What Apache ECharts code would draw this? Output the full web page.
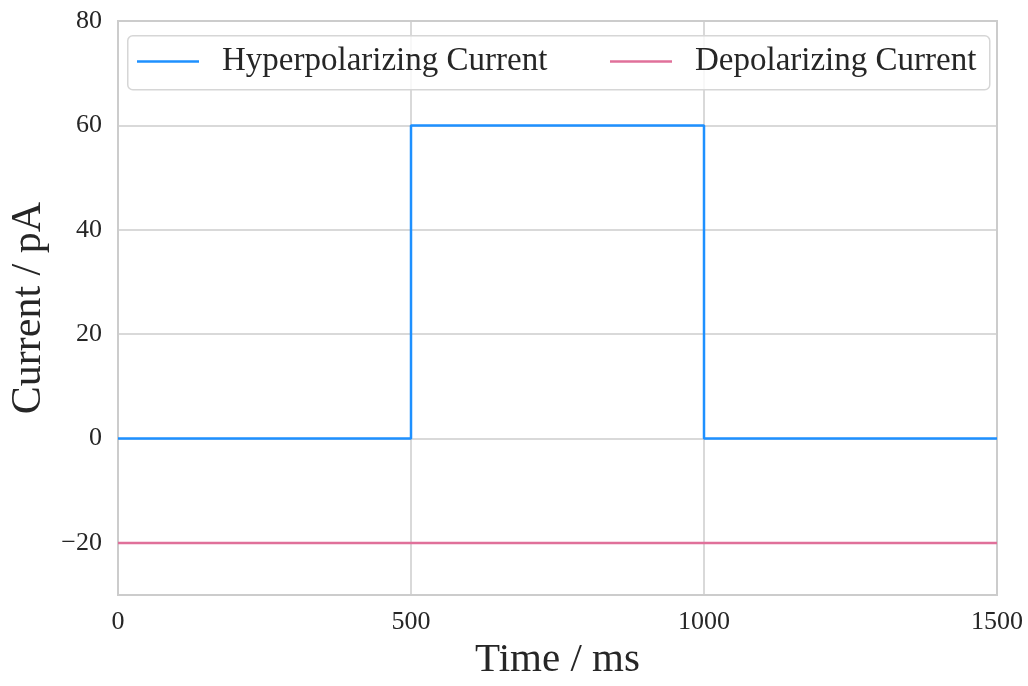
<!DOCTYPE html>
<html><head><meta charset="utf-8">
<script src="https://cdn.jsdelivr.net/npm/echarts@6/dist/echarts.min.js"></script>
<style>html,body{margin:0;padding:0;background:#fff;overflow:hidden}#c{width:1028px;height:686px}</style>
</head><body><div id="c"></div>
<script>
const time = [0, 500, 1000, 1500];
const hyperpolarizing = [0, 60, 0, 0];
const depolarizing = [-20, -20, -20, -20];
const xTicks = [0, 500, 1000, 1500];
const yTicks = [-20, 0, 20, 40, 60, 80];
const seriesNames = ['Hyperpolarizing Current', 'Depolarizing Current'];
const seriesColors = ['#1e90ff', '#e0709a'];

const FONT = '"Liberation Serif", serif';
const TXT = '#262626';
const chart = echarts.init(document.getElementById('c'), null, {renderer: 'canvas'});
const legendBase = {
  top: 45, orient: 'horizontal', itemWidth: 62, itemHeight: 2.5, icon: 'rect', padding: 0, z: 6,
  textStyle: {fontFamily: FONT, fontSize: 33, color: TXT, padding: [0, 0, 0, 18]}
};
chart.setOption({
  animation: false,
  grid: {left: 118, right: 31, top: 21, bottom: 83, show: true, borderColor: '#cccccc', borderWidth: 2, containLabel: false},
  graphic: [{type: 'rect', left: 127, top: 35, shape: {width: 862, height: 54, r: 5},
    style: {fill: 'rgba(255,255,255,0.8)', stroke: '#d6d6d6', lineWidth: 1.5}, z: 4}],
  legend: [
    Object.assign({}, legendBase, {left: 137, data: [seriesNames[0]]}),
    Object.assign({}, legendBase, {left: 610, data: [seriesNames[1]]})
  ],
  xAxis: {
    type: 'value', min: 0, max: 1500,
    name: 'Time / ms', nameLocation: 'middle', nameGap: 40,
    nameTextStyle: {fontFamily: FONT, fontSize: 41, color: TXT},
    axisLine: {show: false}, axisTick: {show: false, customValues: xTicks},
    axisLabel: {customValues: xTicks, fontFamily: FONT, fontSize: 26, color: TXT, margin: 14,
      formatter: v => String(v)},
    splitLine: {show: true, lineStyle: {color: '#cccccc', width: 1.5}}
  },
  yAxis: {
    type: 'value', min: -30, max: 80,
    name: 'Current / pA', nameLocation: 'middle', nameGap: 66,
    nameTextStyle: {fontFamily: FONT, fontSize: 42, color: TXT},
    axisLine: {show: false}, axisTick: {show: false, customValues: yTicks},
    axisLabel: {customValues: yTicks, fontFamily: FONT, fontSize: 26, color: TXT, margin: 16,
      formatter: v => v < 0 ? '\u2212' + Math.abs(v) : String(v)},
    splitLine: {show: true, lineStyle: {color: '#cccccc', width: 1.5}}
  },
  series: [
    {name: seriesNames[0], type: 'line', step: 'end', showSymbol: false,
     data: time.map((t, i) => [t, hyperpolarizing[i]]),
     itemStyle: {color: seriesColors[0]}, lineStyle: {color: seriesColors[0], width: 2.5}, z: 3},
    {name: seriesNames[1], type: 'line', showSymbol: false,
     data: time.map((t, i) => [t, depolarizing[i]]),
     itemStyle: {color: seriesColors[1]}, lineStyle: {color: seriesColors[1], width: 2.5}, z: 2}
  ]
});
</script></body></html>
